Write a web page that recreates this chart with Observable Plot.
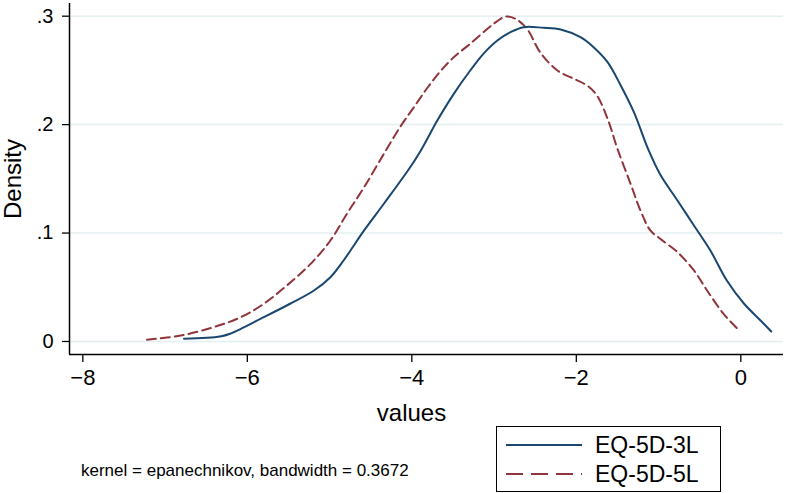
<!DOCTYPE html>
<html>
<head>
<meta charset="utf-8">
<script src="https://cdn.jsdelivr.net/npm/d3@7"></script>
<script src="https://cdn.jsdelivr.net/npm/@observablehq/plot@0.6"></script>
<style>
  html, body { margin: 0; padding: 0; background: #fff; }
  #wrap { position: relative; width: 786px; height: 493px; font-family: "Liberation Sans", Arial, sans-serif; overflow: hidden; }
  #chart { position: absolute; left: 0; top: 0; }
  .abs { position: absolute; white-space: nowrap; line-height: 1; color: #000; }
  #legend { position: absolute; left: 496px; top: 426px; width: 225px; height: 66px; border: 1px solid #000; box-sizing: border-box; background: #fff; }
</style>
</head>
<body>
<div id="wrap">
  <div id="chart"></div>
  <div class="abs" id="caption" style="left:81px; top:462px; font-size:17px;"></div>
  <div id="legend"></div>
</div>
<script>
// Series: EQ-5D-3L kernel density (values, density)
const x3L = [-6.77, -6.33, -6.21, -5.80, -5.48, -5.19, -4.99, -4.83, -4.58, -4.34, -4.02, -3.89, -3.69, -3.49, -3.29, -3.13, -2.96, -2.80, -2.64, -2.40, -2.19, -1.95, -1.79, -1.62, -1.46, -1.30, -1.12, -0.98, -0.77, -0.57, -0.37, -0.17, 0.04, 0.24, 0.37];
const y3L = [0.0025, 0.0046, 0.0071, 0.0224, 0.0348, 0.0470, 0.0593, 0.0747, 0.1024, 0.1270, 0.1607, 0.1762, 0.2038, 0.2284, 0.2499, 0.2653, 0.2776, 0.2853, 0.2899, 0.2893, 0.2877, 0.2806, 0.2714, 0.2576, 0.2361, 0.2115, 0.1762, 0.1540, 0.1300, 0.1070, 0.0839, 0.0562, 0.0348, 0.0194, 0.0092];
// Series: EQ-5D-5L kernel density
const x5L = [-7.22, -6.81, -6.41, -6.08, -5.80, -5.52, -5.23, -4.99, -4.79, -4.58, -4.34, -4.14, -3.98, -3.81, -3.65, -3.49, -3.29, -3.08, -2.96, -2.86, -2.74, -2.60, -2.44, -2.23, -2.03, -1.87, -1.75, -1.62, -1.50, -1.34, -1.22, -1.10, -0.98, -0.77, -0.57, -0.41, -0.21, -0.04];
const y5L = [0.0016, 0.0055, 0.0132, 0.0224, 0.0348, 0.0516, 0.0716, 0.0931, 0.1177, 0.1423, 0.1730, 0.1980, 0.2155, 0.2340, 0.2495, 0.2622, 0.2746, 0.2884, 0.2955, 0.2997, 0.2976, 0.2884, 0.2668, 0.2499, 0.2423, 0.2361, 0.2269, 0.2054, 0.1777, 0.1454, 0.1208, 0.1024, 0.0947, 0.0824, 0.0655, 0.0470, 0.0255, 0.0117];

const seriesNames = ["EQ-5D-3L", "EQ-5D-5L"];
const seriesColors = ["#1a476f", "#90353b"];
const xTicks = [-8, -6, -4, -2, 0];
const yTicks = [0, 0.1, 0.2, 0.3];
const xDomain = [-8.162, 0.519];
const yDomain = [-0.012, 0.3117];
const xLabel = "values";
const yLabel = "Density";
const captionText = "kernel = epanechnikov, bandwidth = 0.3672";

const d3L = x3L.map((x, i) => ({x, y: y3L[i]}));
const d5L = x5L.map((x, i) => ({x, y: y5L[i]}));

const yFmt = d => d === 0 ? "0" : d3.format(".1f")(d).replace(/^0/, "");

const chart = Plot.plot({
  width: 786,
  height: 424,
  marginLeft: 69,
  marginRight: 3,
  marginTop: 3,
  marginBottom: 70,
  style: { fontFamily: '"Liberation Sans", Arial, sans-serif', background: "#fff", color: "#000", overflow: "visible" },
  x: { domain: xDomain },
  y: { domain: yDomain },
  marks: [
    Plot.gridY(yTicks, { stroke: "#e4f0f0", strokeOpacity: 1, strokeWidth: 1.5 }),
    Plot.axisY({ ticks: yTicks, tickFormat: yFmt, tickSize: 7, tickPadding: 9, fontSize: 20, stroke: "#000", strokeWidth: 1.3,
      label: yLabel, labelAnchor: "center", labelOffset: 66, labelArrow: "none" }),
    Plot.axisX({ ticks: xTicks, tickSize: 8, tickPadding: 7, fontSize: 22, stroke: "#000", strokeWidth: 1.3, label: null }),
    Plot.axisX({ ticks: [], label: xLabel, labelAnchor: "center", labelOffset: 66, labelArrow: "none", fontSize: 24 }),
    Plot.ruleX([xDomain[0]], { stroke: "#000", strokeWidth: 1.5 }),
    Plot.ruleY([yDomain[0]], { stroke: "#000", strokeWidth: 1.5 }),
    Plot.line(d5L, { x: "x", y: "y", stroke: seriesColors[1], strokeWidth: 2, strokeDasharray: "9,5", curve: "catmull-rom" }),
    Plot.line(d3L, { x: "x", y: "y", stroke: seriesColors[0], strokeWidth: 2, curve: "catmull-rom" })
  ]
});
document.getElementById("chart").appendChild(chart);
// axis-title font sizes
chart.querySelectorAll('[aria-label="y-axis label"] text, [aria-label="x-axis label"] text').forEach(t => { t.style.fontSize = "24px"; });
const xl = chart.querySelector('[aria-label="x-axis label"]');
if (xl) xl.setAttribute("transform", "translate(-15,0) " + (xl.getAttribute("transform") || ""));

document.getElementById("caption").textContent = captionText;

// Legend (HTML below plot area)
const legend = document.getElementById("legend");
const dashes = ["none", "17,8"];
seriesNames.forEach((name, i) => {
  const row = document.createElement("div");
  row.style.cssText = `position:absolute; left:8px; top:${5 + i * 29}px; height:26px; display:flex; align-items:center;`;
  row.innerHTML = `<svg width="78" height="6" style="display:block"><line x1="1" x2="77" y1="3" y2="3" stroke="${seriesColors[i]}" stroke-width="2" stroke-dasharray="${dashes[i]}"/></svg><span style="font-size:23px; margin-left:12px; line-height:1;">${name}</span>`;
  legend.appendChild(row);
});
</script>
</body>
</html>
